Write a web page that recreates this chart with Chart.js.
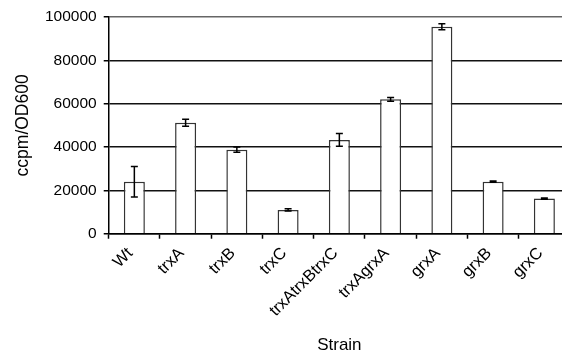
<!DOCTYPE html>
<html>
<head>
<meta charset="utf-8">
<script src="https://cdn.jsdelivr.net/npm/chart.js@4/dist/chart.umd.min.js"></script>
<style>
  html, body { margin: 0; padding: 0; background: #fff; }
  #frame { width: 562px; height: 353px; overflow: hidden; position: relative; }
</style>
</head>
<body>
<div id="frame">
  <canvas id="strainChart" width="580" height="353"></canvas>
</div>
<script>
// strain names on the x axis
const strains = ['Wt', 'trxA', 'trxB', 'trxC', 'trxAtrxBtrxC', 'trxAgrxA', 'grxA', 'grxB', 'grxC'];
// mean ccpm/OD600 per strain
const means = [24000, 51200, 38800, 11000, 43300, 62000, 95500, 24000, 16200];
// error bar half-widths
const errors = [7000, 1600, 1200, 500, 2900, 900, 1400, 300, 300];
// y axis ticks
const yTicks = [0, 20000, 40000, 60000, 80000, 100000];

const fontFamily = '"Liberation Sans", Arial, Helvetica, sans-serif';

// draws the error bars on top of each bar, using the chart's own y scale
const errorBars = {
    id: 'errorBars',
    afterDatasetsDraw(chart) {
        const ctx = chart.ctx;
        const yScale = chart.scales.y;
        const meta = chart.getDatasetMeta(0);
        ctx.save();
        ctx.strokeStyle = '#000';
        ctx.lineWidth = 1.5;
        meta.data.forEach((bar, i) => {
            const hi = yScale.getPixelForValue(means[i] + errors[i]);
            const lo = yScale.getPixelForValue(means[i] - errors[i]);
            const cap = 3.5;
            ctx.beginPath();
            ctx.moveTo(bar.x, hi);
            ctx.lineTo(bar.x, lo);
            ctx.moveTo(bar.x - cap, hi);
            ctx.lineTo(bar.x + cap, hi);
            ctx.moveTo(bar.x - cap, lo);
            ctx.lineTo(bar.x + cap, lo);
            ctx.stroke();
        });
        ctx.restore();
    }
};

const ctx = document.getElementById('strainChart').getContext('2d');
const strainChart = new Chart(ctx, {
    type: 'bar',
    data: {
        labels: strains,
        datasets: [{
            label: 'ccpm/OD600',
            data: means,
            backgroundColor: '#fff',
            borderColor: '#333',
            borderWidth: 1.5,
            categoryPercentage: 1,
            barPercentage: 0.41
        }]
    },
    plugins: [errorBars],
    options: {
        responsive: false,
        animation: false,
        layout: {
            padding: { left: 13, right: 10, top: 17, bottom: -3 }
        },
        plugins: {
            legend: { display: false },
            tooltip: { enabled: false }
        },
        scales: {
            x: {
                grid: {
                    offset: true,
                    drawOnChartArea: false,
                    drawTicks: true,
                    tickLength: 5,
                    tickColor: '#000',
                    tickWidth: 1.5
                },
                border: { color: '#000', width: 1.5 },
                ticks: {
                    autoSkip: false,
                    minRotation: 45,
                    maxRotation: 45,
                    color: '#000',
                    padding: 5,
                    labelOffset: -4,
                    font: { family: fontFamily, size: 16.5 }
                },
                title: {
                    display: true,
                    text: 'Strain',
                    color: '#000',
                    padding: { top: 10, bottom: 0 },
                    font: { family: fontFamily, size: 17 }
                }
            },
            y: {
                min: 0,
                max: 100000,
                afterBuildTicks: (axis) => {
                    axis.ticks = yTicks.map(v => ({ value: v }));
                },
                grid: {
                    color: (c) => c.tick && c.tick.value === 100000 ? '#666' : '#111',
                    lineWidth: 1.5,
                    drawTicks: true,
                    tickLength: 5,
                    tickColor: '#000',
                    tickWidth: 1.5
                },
                border: { color: '#000', width: 1.5 },
                ticks: {
                    color: '#000',
                    padding: 7,
                    callback: (v) => String(v),
                    font: { family: fontFamily, size: 15.5 }
                },
                title: {
                    display: true,
                    text: 'ccpm/OD600',
                    color: '#000',
                    padding: { top: 0, bottom: 4 },
                    font: { family: fontFamily, size: 17.5 }
                }
            }
        }
    }
});
</script>
</body>
</html>
